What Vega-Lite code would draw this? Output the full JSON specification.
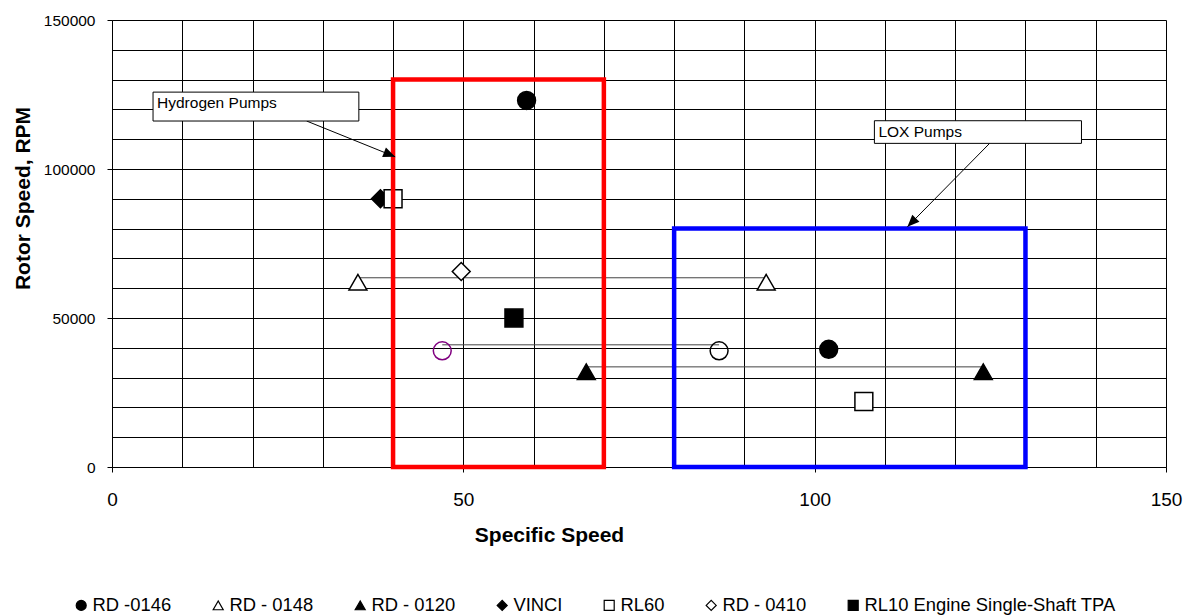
{
  "$schema": "https://vega.github.io/schema/vega-lite/v6.json",
  "width": 1054,
  "height": 447,
  "autosize": {"type": "none"},
  "padding": {"left": 112, "top": 20, "right": 29, "bottom": 148},
  "background": "white",
  "config": {
    "font": "Liberation Sans",
    "view": {"stroke": null},
    "axis": {
      "grid": true,
      "gridColor": "#000000",
      "gridOpacity": 1,
      "gridWidth": 1,
      "domainColor": "#000000",
      "domainWidth": 1,
      "tickColor": "#000000",
      "tickSize": 5,
      "labelColor": "#000000",
      "labelFont": "Liberation Sans",
      "titleFont": "Liberation Sans",
      "titleColor": "#000000",
      "titleFontWeight": "bold",
      "titleFontSize": 21,
      "labelFlush": false,
      "labelOverlap": false
    }
  },
  "datasets": {
    "points": [
      {"series": "RD -0146", "x": 59, "y": 123000},
      {"series": "RD -0146", "x": 102, "y": 39500},
      {"series": "RD - 0148", "x": 35, "y": 62000},
      {"series": "RD - 0148", "x": 93.1, "y": 62000},
      {"series": "RD - 0120", "x": 67.5, "y": 32000},
      {"series": "RD - 0120", "x": 124, "y": 32000},
      {"series": "VINCI", "x": 38.2, "y": 90000},
      {"series": "RL60", "x": 40, "y": 90000},
      {"series": "RL60", "x": 107, "y": 22000},
      {"series": "RD - 0410", "x": 49.7, "y": 65600},
      {"series": "RL10 Engine Single-Shaft TPA", "x": 57.2, "y": 50000}
    ],
    "open": [
      {"pump": "Hydrogen", "x": 47, "y": 39000},
      {"pump": "LOX", "x": 86.4, "y": 39000}
    ],
    "connectors": [
      {"x": 35, "x2": 93.1, "y": 63500},
      {"x": 47, "x2": 86.4, "y": 41000},
      {"x": 67.5, "x2": 124, "y": 33600}
    ],
    "regions": [
      {"region": "Hydrogen", "x": 40, "x2": 70, "y": 0, "y2": 130000},
      {"region": "LOX", "x": 80, "x2": 130, "y": 0, "y2": 80000}
    ],
    "labels": [
      {"label": "Hydrogen Pumps", "x": 5.84, "x2": 35.13, "y": 125800, "y2": 116100},
      {"label": "LOX Pumps", "x": 108.5, "x2": 137.97, "y": 116200, "y2": 108600}
    ],
    "arrows": [
      {"label": "Hydrogen Pumps", "x": 27.7, "y": 116100, "x2": 40.3, "y2": 104100},
      {"label": "LOX Pumps", "x": 124.9, "y": 108600, "x2": 113.2, "y2": 80600}
    ]
  },
  "layer": [
    {
      "data": {"name": "connectors"},
      "mark": {"type": "rule", "color": "#444444", "strokeWidth": 1},
      "encoding": {
        "x": {
          "field": "x", "type": "quantitative", "title": "Specific Speed",
          "scale": {"domain": [0, 150], "nice": false, "zero": false},
          "axis": {
            "values": [0, 10, 20, 30, 40, 50, 60, 70, 80, 90, 100, 110, 120, 130, 140, 150],
            "tickCount": 40,
            "labelExpr": "datum.value % 50 === 0 ? datum.label : ''",
            "tickOpacity": {"condition": {"test": "datum.value % 50 === 0", "value": 1}, "value": 0},
            "labelFontSize": 19,
            "labelPadding": 18,
            "titleX": 437,
            "titleY": 74,
            "titleBaseline": "alphabetic"
          }
        },
        "x2": {"field": "x2"},
        "y": {
          "field": "y", "type": "quantitative", "title": "Rotor Speed, RPM",
          "scale": {"domain": [0, 150000], "nice": false, "zero": false},
          "axis": {
            "values": [0, 10000, 20000, 30000, 40000, 50000, 60000, 70000, 80000, 90000, 100000, 110000, 120000, 130000, 140000, 150000],
            "tickCount": 40,
            "labelExpr": "datum.value % 50000 === 0 ? format(datum.value, 'd') : ''",
            "tickOpacity": {"condition": {"test": "datum.value % 50000 === 0", "value": 1}, "value": 0},
            "labelFontSize": 15.5,
            "labelPadding": 12,
            "titleX": -83,
            "titleY": 178,
            "titleBaseline": "alphabetic"
          }
        }
      }
    },
    {
      "data": {"name": "points"},
      "mark": {"type": "point", "filled": true, "size": 320, "strokeWidth": 1.5, "opacity": 1},
      "encoding": {
        "x": {"field": "x", "type": "quantitative", "title": "Specific Speed"},
        "y": {"field": "y", "type": "quantitative", "title": "Rotor Speed, RPM"},
        "shape": {
          "field": "series", "type": "nominal",
          "scale": {
            "domain": ["RD -0146", "RD - 0148", "RD - 0120", "VINCI", "RL60", "RD - 0410", "RL10 Engine Single-Shaft TPA"],
            "range": ["circle", "triangle-up", "triangle-up", "diamond", "square", "diamond", "square"]
          },
          "legend": {
            "title": null, "orient": "none", "direction": "horizontal",
            "legendX": -40, "legendY": 576,
            "labelFontSize": 18.4, "labelColor": "#000000", "labelFont": "Liberation Sans",
            "symbolSize": 100, "symbolStrokeWidth": 1.2,
            "labelOffset": 2, "columnPadding": 37, "labelLimit": 400
          }
        },
        "fill": {
          "field": "series", "type": "nominal",
          "scale": {
            "domain": ["RD -0146", "RD - 0148", "RD - 0120", "VINCI", "RL60", "RD - 0410", "RL10 Engine Single-Shaft TPA"],
            "range": ["#000000", "#ffffff", "#000000", "#000000", "#ffffff", "#ffffff", "#000000"]
          },
          "legend": {
            "title": null, "orient": "none", "direction": "horizontal",
            "legendX": -40, "legendY": 576,
            "labelFontSize": 18.4, "labelColor": "#000000", "labelFont": "Liberation Sans",
            "symbolSize": 100, "symbolStrokeWidth": 1.2,
            "labelOffset": 2, "columnPadding": 37, "labelLimit": 400
          }
        },
        "stroke": {
          "field": "series", "type": "nominal",
          "scale": {
            "domain": ["RD -0146", "RD - 0148", "RD - 0120", "VINCI", "RL60", "RD - 0410", "RL10 Engine Single-Shaft TPA"],
            "range": ["#000000", "#000000", "#000000", "#000000", "#000000", "#000000", "#000000"]
          },
          "legend": {
            "title": null, "orient": "none", "direction": "horizontal",
            "legendX": -40, "legendY": 576,
            "labelFontSize": 18.4, "labelColor": "#000000", "labelFont": "Liberation Sans",
            "symbolSize": 100, "symbolStrokeWidth": 1.2,
            "labelOffset": 2, "columnPadding": 37, "labelLimit": 400
          }
        }
      }
    },
    {
      "data": {"name": "open"},
      "mark": {"type": "point", "filled": false, "size": 320, "strokeWidth": 1.5, "opacity": 1},
      "encoding": {
        "x": {"field": "x", "type": "quantitative", "title": "Specific Speed"},
        "y": {"field": "y", "type": "quantitative", "title": "Rotor Speed, RPM"},
        "color": {
          "field": "pump", "type": "nominal",
          "scale": {"domain": ["Hydrogen", "LOX"], "range": ["#800080", "#000000"]},
          "legend": null
        }
      }
    },
    {
      "data": {"name": "regions"},
      "transform": [{"filter": "datum.region === 'Hydrogen'"}],
      "mark": {"type": "rect", "fill": "transparent", "stroke": "#ff0000", "strokeWidth": 4.5},
      "encoding": {
        "x": {"field": "x", "type": "quantitative", "title": "Specific Speed"},
        "x2": {"field": "x2"},
        "y": {"field": "y", "type": "quantitative", "title": "Rotor Speed, RPM"},
        "y2": {"field": "y2"}
      }
    },
    {
      "data": {"name": "regions"},
      "transform": [{"filter": "datum.region === 'LOX'"}],
      "mark": {"type": "rect", "fill": "transparent", "stroke": "#0000ff", "strokeWidth": 4.5},
      "encoding": {
        "x": {"field": "x", "type": "quantitative", "title": "Specific Speed"},
        "x2": {"field": "x2"},
        "y": {"field": "y", "type": "quantitative", "title": "Rotor Speed, RPM"},
        "y2": {"field": "y2"}
      }
    },
    {
      "data": {"name": "arrows"},
      "mark": {"type": "rule", "color": "#000000", "strokeWidth": 1},
      "encoding": {
        "x": {"field": "x", "type": "quantitative", "title": "Specific Speed"},
        "x2": {"field": "x2"},
        "y": {"field": "y", "type": "quantitative", "title": "Rotor Speed, RPM"},
        "y2": {"field": "y2"}
      }
    },
    {
      "data": {"name": "arrows"},
      "transform": [{"filter": "datum.label === 'Hydrogen Pumps'"}],
      "mark": {"type": "point", "shape": "M0,0L-0.42,1L0.42,1Z", "size": 576, "filled": true, "color": "#000000", "angle": 112, "opacity": 1},
      "encoding": {
        "x": {"field": "x2", "type": "quantitative", "title": "Specific Speed"},
        "y": {"field": "y2", "type": "quantitative", "title": "Rotor Speed, RPM"}
      }
    },
    {
      "data": {"name": "arrows"},
      "transform": [{"filter": "datum.label === 'LOX Pumps'"}],
      "mark": {"type": "point", "shape": "M0,0L-0.42,1L0.42,1Z", "size": 576, "filled": true, "color": "#000000", "angle": 224.6, "opacity": 1},
      "encoding": {
        "x": {"field": "x2", "type": "quantitative", "title": "Specific Speed"},
        "y": {"field": "y2", "type": "quantitative", "title": "Rotor Speed, RPM"}
      }
    },
    {
      "data": {"name": "labels"},
      "mark": {"type": "rect", "fill": "#ffffff", "stroke": "#000000", "strokeWidth": 1},
      "encoding": {
        "x": {"field": "x", "type": "quantitative", "title": "Specific Speed"},
        "x2": {"field": "x2"},
        "y": {"field": "y", "type": "quantitative", "title": "Rotor Speed, RPM"},
        "y2": {"field": "y2"}
      }
    },
    {
      "data": {"name": "labels"},
      "mark": {"type": "text", "align": "left", "baseline": "alphabetic", "dx": 4, "dy": 16, "fontSize": 15.5, "font": "Liberation Sans", "color": "#000000"},
      "encoding": {
        "x": {"field": "x", "type": "quantitative", "title": "Specific Speed"},
        "y": {"field": "y", "type": "quantitative", "title": "Rotor Speed, RPM"},
        "text": {"field": "label"}
      }
    }
  ]
}
